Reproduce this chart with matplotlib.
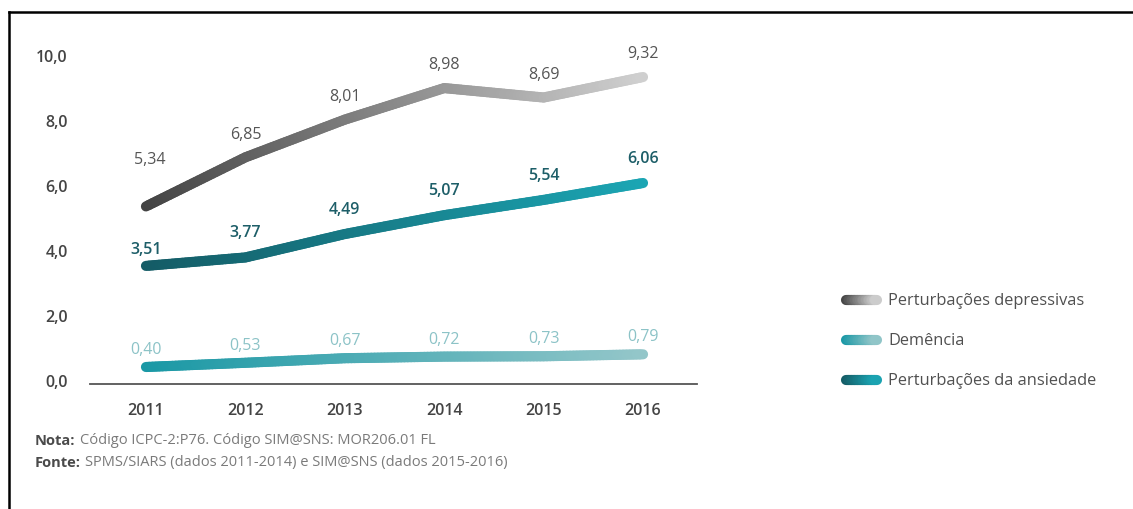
import matplotlib
matplotlib.use("Agg")
import matplotlib.pyplot as plt
import numpy as np
from matplotlib.collections import LineCollection
from matplotlib.colors import LinearSegmentedColormap
from matplotlib.lines import Line2D

plt.rcParams["font.family"] = ["Open Sans", "DejaVu Sans"]

years = [2011, 2012, 2013, 2014, 2015, 2016]
depressivas = [5.34, 6.85, 8.01, 8.98, 8.69, 9.32]
ansiedade = [3.51, 3.77, 4.49, 5.07, 5.54, 6.06]
demencia = [0.40, 0.53, 0.67, 0.72, 0.73, 0.79]

series_names = ["Perturbações depressivas", "Demência", "Perturbações da ansiedade"]
y_ticks = [0, 2, 4, 6, 8, 10]
y_tick_labels = ["0,0", "2,0", "4,0", "6,0", "8,0", "10,0"]

nota = "Código ICPC-2:P76. Código SIM@SNS: MOR206.01 FL"
fonte = "SPMS/SIARS (dados 2011-2014) e SIM@SNS (dados 2015-2016)"

W, H = 1133, 510
LW = 7.3

cmap_dep = LinearSegmentedColormap.from_list("dep", ["#434343", "#cfcfcf"])
cmap_dem = LinearSegmentedColormap.from_list("dem", ["#1998a5", "#93c6c9"])
cmap_ans = LinearSegmentedColormap.from_list("ans", ["#145b65", "#1ba5b3"])


def gradient_line(xs, ys, cmap, transform, zorder=3, steps=30):
    # split each segment into short pieces so the colour can run along x
    xs = np.asarray(xs, float)
    ys = np.asarray(ys, float)
    segs, cols = [], []
    x0, x1 = xs[0], xs[-1]
    for i in range(len(xs) - 1):
        t = np.linspace(0, 1, steps + 1)
        px = xs[i] + (xs[i + 1] - xs[i]) * t
        py = ys[i] + (ys[i + 1] - ys[i]) * t
        for j in range(steps):
            segs.append([(px[j], py[j]), (px[j + 1], py[j + 1])])
            cols.append(cmap(((px[j] + px[j + 1]) / 2 - x0) / (x1 - x0)))
    return LineCollection(segs, colors=cols, linewidths=LW, capstyle="round",
                          joinstyle="round", transform=transform, zorder=zorder)


fig = plt.figure(figsize=(W / 100, H / 100), dpi=100)
ax = fig.add_axes([90 / W, (H - 385) / H, 607 / W, 345 / H])
ax.set_xlim(2010.437, 2016.543)
ax.set_ylim(-0.123, 10.49)

for vals, cmap in [(depressivas, cmap_dep), (ansiedade, cmap_ans), (demencia, cmap_dem)]:
    ax.add_collection(gradient_line(years, vals, cmap, ax.transData))

fmt = lambda v: f"{v:.2f}".replace(".", ",")

for i, (x, v) in enumerate(zip(years, depressivas)):
    dy = 34 if i == 0 else 17
    dx = 3 if i == 0 else 0
    ax.annotate(fmt(v), (x, v), xytext=(dx, dy), textcoords="offset points",
                ha="center", va="center", fontsize=11.5, color="#555555")
for i, (x, v) in enumerate(zip(years, ansiedade)):
    dy = 12.5 if i == 0 else 18
    ax.annotate(fmt(v), (x, v), xytext=(0, dy), textcoords="offset points",
                ha="center", va="center", fontsize=11.5, color="#1d5e68",
                fontweight="semibold")
for x, v in zip(years, demencia):
    ax.annotate(fmt(v), (x, v), xytext=(0, 13), textcoords="offset points",
                ha="center", va="center", fontsize=11.5, color="#8cc3c7")

for s in ["top", "right", "left"]:
    ax.spines[s].set_visible(False)
ax.spines["bottom"].set_color("#555555")
ax.spines["bottom"].set_linewidth(1.3)
ax.set_xticks(years)
ax.set_xticklabels([str(y) for y in years])
ax.set_yticks(y_ticks)
ax.set_yticklabels(y_tick_labels)
ax.tick_params(axis="both", length=0, labelsize=11.5, labelcolor="#444444")
ax.tick_params(axis="x", pad=13)
ax.tick_params(axis="y", pad=16)
for lab in ax.get_xticklabels() + ax.get_yticklabels():
    lab.set_fontweight("semibold")

# legend drawn by hand with the same gradient strokes
leg_y = [301, 341, 381]
for name, cmap, yy in zip(series_names, [cmap_dep, cmap_dem, cmap_ans], leg_y):
    yf = (H - yy) / H
    fig.add_artist(gradient_line([846 / W, 877 / W], [yf, yf], cmap,
                                 fig.transFigure, steps=20))
    fig.text(888 / W, yf, name, ha="left", va="center", fontsize=11.8,
             color="#505050", fontweight="medium")

# notes under the chart
for yy, head, body in [(441, "Nota:", nota), (463, "Fonte:", fonte)]:
    t = fig.text(35 / W, (H - yy) / H, head, ha="left", va="center",
                 fontsize=10.5, fontweight="bold", color="#4a4a4a")
    ax.annotate(body, xy=(1, 0.5), xycoords=t, xytext=(3, 0),
                textcoords="offset points", ha="left", va="center",
                fontsize=10.5, color="#7a7a7a", annotation_clip=False)

# page frame along top and left
fig.add_artist(Line2D([9 / W, 1], [(H - 12.5) / H] * 2, color="black", lw=1.8,
                      transform=fig.transFigure, solid_capstyle="projecting"))
fig.add_artist(Line2D([9 / W] * 2, [0, (H - 12.5) / H], color="black", lw=1.8,
                      transform=fig.transFigure, solid_capstyle="projecting"))

fig.savefig("out.png", dpi=100)
